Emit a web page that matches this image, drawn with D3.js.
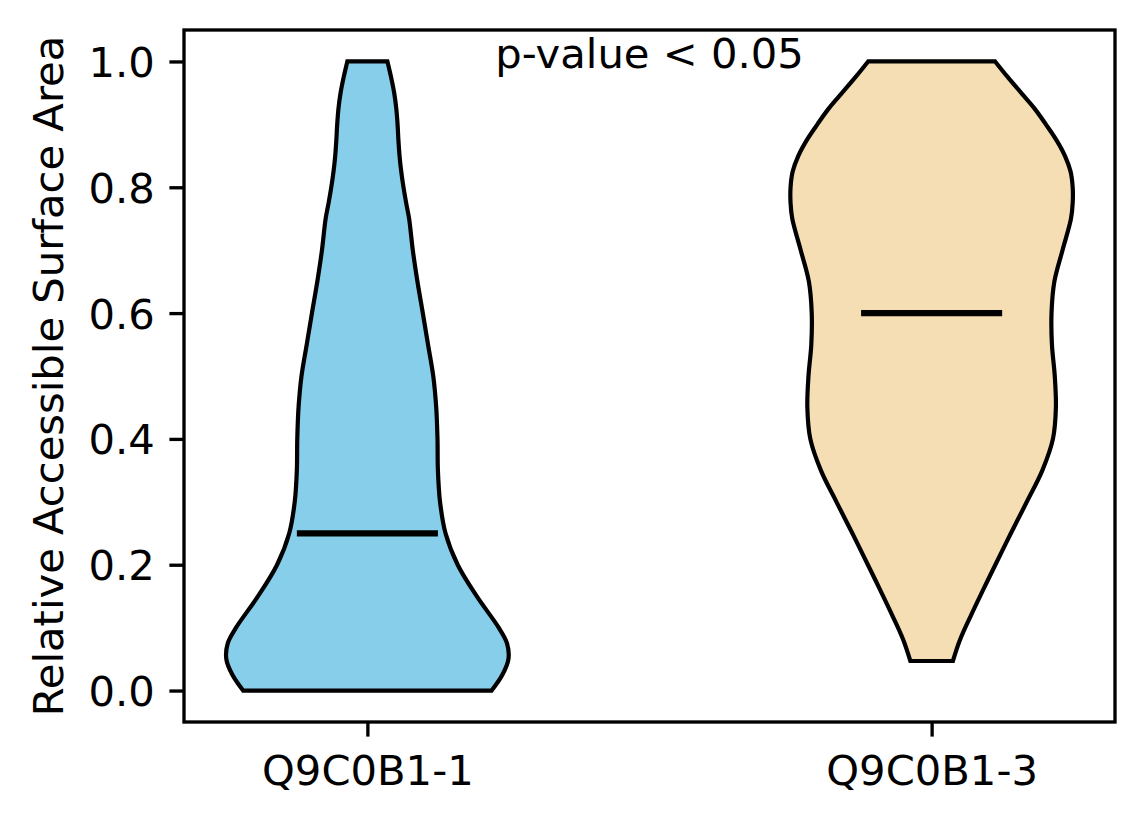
<html>
<head>
<script src="https://d3js.org/d3.v7.min.js"></script>
<style type="text/css">
    body { margin: 0; background: #fff; }
    text { font-family: "DejaVu Sans", sans-serif; }
</style>
</head>
<body>
<svg id="chart" width="1144" height="824" xmlns="http://www.w3.org/2000/svg"></svg>
<script type="text/javascript">
// isoform names and positions on the x axis
const categories = ["Q9C0B1-1", "Q9C0B1-3"];
const positions = [1, 2];
const fills = ["#87CEEB", "#F5DEB3"];
const medians = [0.25, 0.6];

// violin outlines: RSA level -> density (scaled so max = 1)
const leftLevels  = [0, 0.025, 0.05, 0.075, 0.1, 0.15, 0.2, 0.25, 0.3, 0.35, 0.4, 0.45, 0.5,
                     0.55, 0.6, 0.65, 0.7, 0.75, 0.775, 0.8, 0.825, 0.85, 0.875, 0.9,
                     0.925, 0.95, 0.975, 1.0];
const leftDensity = [0.881, 0.957, 1.0, 0.99, 0.931, 0.775, 0.64, 0.554, 0.515, 0.5, 0.497, 0.488, 0.467,
                     0.43, 0.393, 0.355, 0.322, 0.296, 0.275, 0.256, 0.24, 0.228, 0.22, 0.214,
                     0.205, 0.19, 0.168, 0.142];

const rightLevels  = [0.047, 0.08, 0.12, 0.16, 0.2, 0.25, 0.3, 0.35, 0.4, 0.45, 0.5, 0.55,
                      0.6, 0.65, 0.7, 0.75, 0.775, 0.8, 0.825, 0.85, 0.875, 0.9, 0.925, 0.95,
                      0.975, 1.0];
const rightDensity = [0.151, 0.2, 0.28, 0.365, 0.452, 0.562, 0.675, 0.785, 0.86, 0.881, 0.873, 0.853,
                      0.85, 0.87, 0.928, 0.988, 1.0, 1.0, 0.985, 0.945, 0.885, 0.81, 0.73, 0.635,
                      0.54, 0.45];

const yTicks = [0, 0.2, 0.4, 0.6, 0.8, 1.0];
const yLabel = "Relative Accessible Surface Area";
const note = "p-value < 0.05";

const profiles = [
    { levels: leftLevels, density: leftDensity },
    { levels: rightLevels, density: rightDensity },
];

const svg = d3.select("#chart");
svg.append("rect").attr("width", 1144).attr("height", 824).attr("fill", "#fff");

const box = { left: 184, right: 1115, top: 30, bottom: 722 };
const fontSize = 41.7;
const lw = 3.33; // 0.8pt at 300dpi

const x = d3.scaleLinear().domain([0.675, 2.325]).range([box.left, box.right]);
const y = d3.scaleLinear().domain([-0.05, 1.05]).range([box.bottom, box.top]);

const violinWidth = 0.5;
const halfW = d => (x(1 + violinWidth / 2) - x(1)) * d;

const g = svg.append("g");

profiles.forEach((p, i) => {
    const cx = x(positions[i]);
    const pts = p.levels.map((v, k) => ({ v: v, d: p.density[k] }));
    const area = d3.area()
        .y(d => y(d.v))
        .x0(d => cx - halfW(d.d))
        .x1(d => cx + halfW(d.d))
        .curve(d3.curveCatmullRom.alpha(0.5));
    g.append("path")
        .datum(pts)
        .attr("d", area)
        .attr("fill", fills[i])
        .attr("stroke", "#000")
        .attr("stroke-width", 4.2)
        .attr("stroke-linejoin", "miter");
});

// median bars
g.selectAll("line.median")
    .data(medians)
    .join("line")
    .attr("class", "median")
    .attr("x1", (m, i) => x(positions[i] - violinWidth / 4))
    .attr("x2", (m, i) => x(positions[i] + violinWidth / 4))
    .attr("y1", m => y(m))
    .attr("y2", m => y(m))
    .attr("stroke", "#000")
    .attr("stroke-width", 6.25);

// axes
const xAxis = d3.axisBottom(x)
    .tickValues(positions)
    .tickFormat((d, i) => categories[i])
    .tickSize(14.6)
    .tickPadding(14.6);
const gx = svg.append("g").attr("transform", `translate(0,${box.bottom})`).call(xAxis);
gx.select(".domain").remove();
gx.selectAll(".tick line").attr("stroke", "#000").attr("stroke-width", lw);
gx.selectAll(".tick text")
    .attr("fill", "#000")
    .attr("dy", "0.81em")
    .style("font-size", fontSize + "px")
    .style("font-family", "'DejaVu Sans', sans-serif");

const yAxis = d3.axisLeft(y)
    .tickValues(yTicks)
    .tickFormat(d3.format(".1f"))
    .tickSize(14.6)
    .tickPadding(14.6);
const gy = svg.append("g").attr("transform", `translate(${box.left},0)`).call(yAxis);
gy.select(".domain").remove();
gy.selectAll(".tick line").attr("stroke", "#000").attr("stroke-width", lw);
gy.selectAll(".tick text")
    .attr("fill", "#000")
    .attr("dy", "0.36em")
    .style("font-size", fontSize + "px")
    .style("font-family", "'DejaVu Sans', sans-serif");

// frame
svg.append("rect")
    .attr("x", box.left).attr("y", box.top)
    .attr("width", box.right - box.left).attr("height", box.bottom - box.top)
    .attr("fill", "none")
    .attr("stroke", "#000")
    .attr("stroke-width", lw);

// y label
svg.append("text")
    .attr("transform", `translate(63,${(box.top + box.bottom) / 2}) rotate(-90)`)
    .attr("text-anchor", "middle")
    .style("font-size", fontSize + "px")
    .text(yLabel);

// annotation
svg.append("text")
    .attr("x", x(1.5))
    .attr("y", y(1.0))
    .attr("dy", "0.15em")
    .attr("text-anchor", "middle")
    .style("font-size", fontSize + "px")
    .text(note);
</script>
</body>
</html>
